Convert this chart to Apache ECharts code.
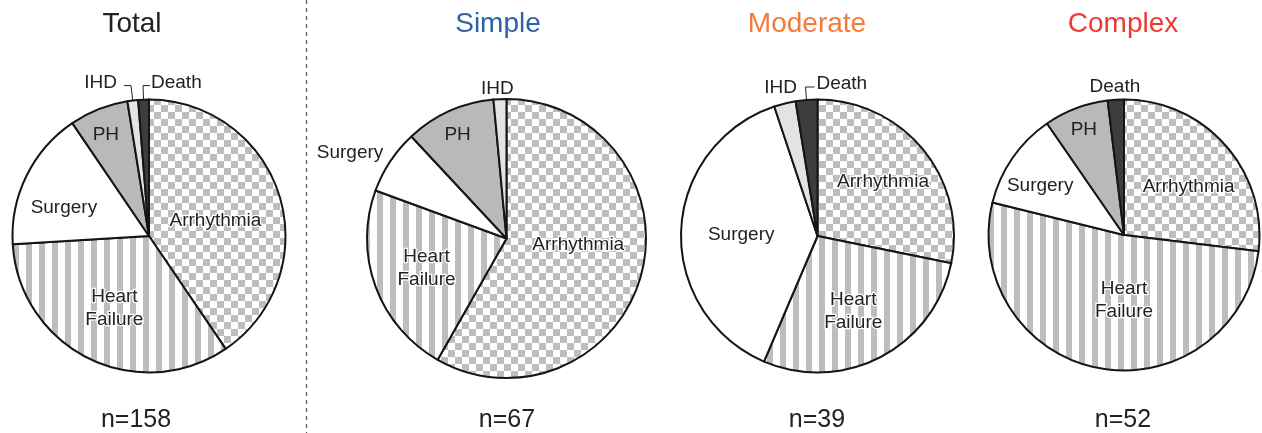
<!DOCTYPE html>
<html><head><meta charset="utf-8">
<script src="https://cdn.jsdelivr.net/npm/echarts@6/dist/echarts.min.js"></script>
<style>html,body{margin:0;padding:0;background:#fff}#c{width:1262px;height:433px}</style>
</head><body><div id="c"></div>
<script>
// ---- data ----
const categories = ['Arrhythmia', 'Heart Failure', 'Surgery', 'PH', 'IHD', 'Death'];
const groups = ['Total', 'Simple', 'Moderate', 'Complex'];
const nCounts = [158, 67, 39, 52];
const totalValues = [64, 53, 26, 11, 2, 2];
const simpleValues = [39, 15, 5, 7, 1, 0];
const moderateValues = [11, 11, 15, 0, 1, 1];
const complexValues = [14, 27, 6, 4, 0, 1];
const seriesValues = [totalValues, simpleValues, moderateValues, complexValues];

// ---- layout / style ----
const FONT = "'Liberation Sans', Arial, Helvetica, sans-serif";
const pies = [
  {center: [149, 236], radius: 136.5, titleX: 132, nX: 136, color: '#222222'},
  {center: [506.5, 238.5], radius: 139.5, titleX: 498, nX: 507, color: '#2e62a7'},
  {center: [817.5, 236], radius: 136.5, titleX: 807, nX: 817, color: '#f47a3a'},
  {center: [1124, 235], radius: 135.5, titleX: 1123, nX: 1123, color: '#ec3a32'}
];
const labelModes = [
  {'Arrhythmia': {mode: 'in', k: 0.51, dx: -3, dy: 6}, 'Heart Failure': {mode: 'in', k: 0.55, dy: 2},
   'Surgery': {mode: 'in', k: 0.65, dx: -2, dy: 13}, 'PH': {mode: 'in', k: 0.82, dy: 7},
   'IHD': {mode: 'bracket', side: 'left', len: 15, len2: 7, gap: 7, dy: -3},
   'Death': {mode: 'bracket', side: 'right', len: 14, len2: 7, gap: 1, dy: -3}},
  {'Arrhythmia': {mode: 'in', k: 0.51, dy: -13}, 'Heart Failure': {mode: 'in', k: 0.6, dx: 2},
   'Surgery': {mode: 'out', len: 6, dx: -2, dy: -5}, 'PH': {mode: 'in', k: 0.82, dy: 5},
   'IHD': {mode: 'top', len: 13, dx: -2, dy: 3}},
  {'Arrhythmia': {mode: 'in', k: 0.63, dx: -4, dy: 3}, 'Heart Failure': {mode: 'in', k: 0.6, dx: -4},
   'Surgery': {mode: 'in', k: 0.55, dx: 2, dy: 2}, 'IHD': {mode: 'top', len: 18, dy: 2},
   'Death': {mode: 'bracket', side: 'right', len: 13, len2: 9, gap: 2, dy: -3}},
  {'Arrhythmia': {mode: 'in', k: 0.61, dy: 9}, 'Heart Failure': {mode: 'in', k: 0.47, dx: 12},
   'Surgery': {mode: 'in', k: 0.72, dy: 9}, 'PH': {mode: 'in', k: 0.84, dx: 2, dy: 6},
   'Death': {mode: 'top', len: 15, dy: 2}}
];

function checker(size, c1, c2) {
  const cv = document.createElement('canvas');
  cv.width = cv.height = size * 2;
  const g = cv.getContext('2d');
  g.fillStyle = c2; g.fillRect(0, 0, size * 2, size * 2);
  g.fillStyle = c1; g.fillRect(0, 0, size, size); g.fillRect(size, size, size, size);
  return cv;
}
function stripes(period, w, c1, c2) {
  const cv = document.createElement('canvas');
  cv.width = period; cv.height = period;
  const g = cv.getContext('2d');
  g.fillStyle = c2; g.fillRect(0, 0, period, period);
  g.fillStyle = c1; g.fillRect(0, 0, w, period);
  return cv;
}
const fills = {
  'Arrhythmia': {image: checker(7, '#bdbdbd', '#ffffff'), repeat: 'repeat'},
  'Heart Failure': {image: stripes(13, 6, '#bdbdbd', '#ffffff'), repeat: 'repeat'},
  'Surgery': '#ffffff',
  'PH': '#b8b9bb',
  'IHD': '#e2e3e5',
  'Death': '#3c3d3f'
};
const halo = {'Arrhythmia': true, 'Heart Failure': true};

function itemOpts(name, m) {
  const lab = {};
  if (halo[name]) { lab.textBorderColor = '#ffffff'; lab.textBorderWidth = 2.5; }
  if (m.mode === 'in') {
    lab.position = 'inside';
    return {label: lab, labelLine: {show: false}};
  }
  if (m.mode === 'bracket') {
    lab.position = 'outside'; lab.distanceToLabelLine = m.gap;
    return {label: lab, labelLine: {show: true, length: m.len, length2: m.len2, lineStyle: {color: '#222', width: 1}}};
  }
  lab.position = 'outside'; lab.distanceToLabelLine = 0;
  return {label: lab, labelLine: {show: false, length: m.len, length2: 0}};
}

const seriesNames = [];
function layoutLabel(p) {
  const si = p.seriesIndex;
  const name = seriesNames[si][p.dataIndex];
  const m = labelModes[si][name];
  const cx = pies[si].center[0], cy = pies[si].center[1];
  const r = p.labelRect;
  const lx = r.x + r.width / 2, ly = r.y + r.height / 2;
  const ex = m.dx || 0, ey = m.dy || 0;
  if (m.mode === 'in') {
    const f = m.k / 0.5 - 1;
    return {dx: (lx - cx) * f + ex, dy: (ly - cy) * f + ey};
  }
  if (m.mode === 'top') {
    const left = lx < cx;
    return {dx: (left ? r.width / 2 : -r.width / 2) + ex, dy: ey};
  }
  if (m.mode === 'out') {
    return {dx: ex, dy: ey};
  }
  const pts = p.labelLinePoints;
  if (!pts) return {};
  const p0 = pts[0], p1 = pts[1], p2 = pts[2];
  const len2 = Math.abs(p2[0] - p1[0]);
  const dir = m.side === 'right' ? 1 : -1;
  const q2 = [p1[0] + dir * len2, p1[1]];
  return {x: q2[0] + dir * m.gap, y: p1[1] + ey, align: dir > 0 ? 'left' : 'right',
          verticalAlign: 'middle', labelLinePoints: [p0, p1, q2]};
}

const series = seriesValues.map((vals, si) => {
  const names = [], data = [];
  vals.forEach((v, i) => {
    if (v > 0) {
      const name = categories[i];
      names.push(name);
      data.push(Object.assign({name: name, value: v, itemStyle: {color: fills[name]}}, itemOpts(name, labelModes[si][name])));
    }
  });
  seriesNames[si] = names;
  return {
    type: 'pie', center: pies[si].center, radius: [0, pies[si].radius],
    startAngle: 90, clockwise: true, avoidLabelOverlap: false, silent: true,
    itemStyle: {borderColor: '#151515', borderWidth: 2},
    label: {show: true, fontFamily: FONT, fontSize: 19, lineHeight: 23, color: '#222222',
            formatter: p => p.name === 'Heart Failure' ? 'Heart\nFailure' : p.name},
    labelLine: {show: false},
    emphasis: {disabled: true},
    labelLayout: layoutLabel,
    data: data
  };
});

const titles = groups.map((g, i) => ({
  text: g, left: pies[i].titleX, top: 10, textAlign: 'center', padding: 0,
  textStyle: {fontFamily: FONT, fontSize: 28, fontWeight: 'normal', color: pies[i].color}
})).concat(nCounts.map((n, i) => ({
  text: 'n=' + n, left: pies[i].nX, top: 408, textAlign: 'center', padding: 0,
  textStyle: {fontFamily: FONT, fontSize: 25, fontWeight: 'normal', color: '#222222'}
})));

const chart = echarts.init(document.getElementById('c'), null, {renderer: 'canvas'});
chart.setOption({
  animation: false,
  backgroundColor: '#ffffff',
  title: titles,
  graphic: [{type: 'line', silent: true, shape: {x1: 306.5, y1: 0, x2: 306.5, y2: 433},
             style: {stroke: '#555555', lineWidth: 1.2, lineDash: [4, 4]}}],
  series: series
});
</script>
</body></html>
